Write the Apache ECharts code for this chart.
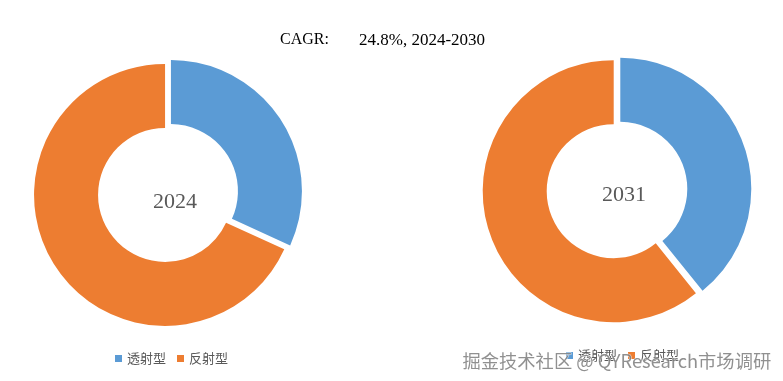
<!DOCTYPE html>
<html><head><meta charset="utf-8">
<script src="https://cdn.jsdelivr.net/npm/echarts@6/dist/echarts.min.js"></script>
<style>html,body{margin:0;padding:0;background:#fff}#c{width:783px;height:381px}</style>
</head><body><div id="c"></div>
<script>
const categories = ['透射型', '反射型'];
const values2024 = [31.8, 68.2];
const values2031 = [39.2, 60.8];
const years = ['2024', '2031'];
const colors = ['#5B9BD5', '#ED7D31'];
const titleLabel = 'CAGR:';
const titleValue = '24.8%, 2024-2030';

const chart = echarts.init(document.getElementById('c'));
function mk(vals, center) {
  return {
    type: 'pie', center: center, radius: [67, 131], startAngle: 90, clockwise: true,
    selectedMode: 'multiple', selectedOffset: 3.5, label: {show: false}, labelLine: {show: false},
    emphasis: {disabled: true}, silent: true, animation: false,
    data: categories.map((n, i) => ({name: n, value: vals[i], selected: true, itemStyle: {color: colors[i]}}))
  };
}
const serif = {fontFamily: 'Liberation Serif', fontWeight: 'normal', color: '#000'};
chart.setOption({
  animation: false,
  title: [
    {text: titleLabel, left: 275, top: 27, textStyle: Object.assign({}, serif, {fontSize: 16})},
    {text: titleValue, left: 354, top: 27, textStyle: Object.assign({}, serif, {fontSize: 17})},
    {text: years[0], left: 170, top: 197, textAlign: 'center', textVerticalAlign: 'middle', textStyle: {fontFamily: 'Liberation Serif', fontSize: 22, fontWeight: 'normal', color: '#595959'}},
    {text: years[1], left: 619, top: 190, textAlign: 'center', textVerticalAlign: 'middle', textStyle: {fontFamily: 'Liberation Serif', fontSize: 22, fontWeight: 'normal', color: '#595959'}}
  ],
  legend: [
    {data: categories, left: 110, top: 347, itemWidth: 7, itemHeight: 7, itemGap: 11, icon: 'rect', textStyle: {fontSize: 13, color: '#595959', fontFamily: 'Noto Sans CJK SC'}},
    {data: categories, left: 561, top: 344, itemWidth: 7, itemHeight: 7, itemGap: 11, icon: 'rect', textStyle: {fontSize: 13, color: '#595959', fontFamily: 'Noto Sans CJK SC'}}
  ],
  series: [mk(values2024, [168, 193]), mk(values2031, [617, 190])],
  graphic: [
    {type: 'text', left: 462, top: 351, silent: true, z: 100,
     style: {text: '掘金技术社区 @ QYResearch市场调研', font: '18.3px "Noto Sans CJK SC"', fill: 'rgba(125,125,125,0.85)', stroke: 'rgba(255,255,255,0.7)', lineWidth: 1}}
  ]
});
</script></body></html>
